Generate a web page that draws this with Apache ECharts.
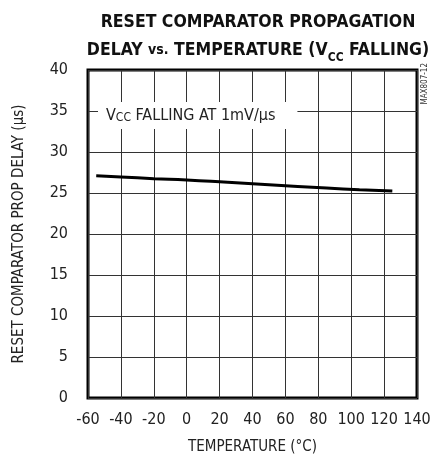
<!DOCTYPE html>
<html>
<head>
<meta charset="utf-8">
<script src="https://cdn.jsdelivr.net/npm/echarts@6/dist/echarts.min.js"></script>
<style>
  html, body { margin: 0; padding: 0; background: #fff; }
  #main { width: 445px; height: 462px; }
</style>
</head>
<body>
<div id="main"></div>
<script>
var temps = [-55, -40, -20, 0, 25, 50, 85, 105, 125];
var delays = [27.1, 26.95, 26.75, 26.6, 26.3, 26.0, 25.6, 25.4, 25.25];
var xTicks = [-60, 140, 20];
var yTicks = [0, 40, 5];

var font = '"Liberation Sans Narrow", "DejaVu Sans Condensed", Arial, sans-serif';

var chartDom = document.getElementById("main");
var myChart = echarts.init(chartDom);
var option = {
  animation: false,
  title: {
    text: "RESET COMPARATOR PROPAGATION\nDELAY {s|vs.} TEMPERATURE (V{sub|CC} FALLING)",
    left: 253,
    textAlign: "center",
    top: 3,
    textStyle: {
      fontFamily: font,
      fontWeight: "bold",
      fontSize: 17.5,
      color: "#111",
      lineHeight: 28,
      rich: {
        s: { fontFamily: font, fontWeight: "bold", fontSize: 14, color: "#111" },
        sub: { fontFamily: font, fontWeight: "bold", fontSize: 12, color: "#111", verticalAlign: "bottom", padding: [6, 0, 0, 0] }
      }
    }
  },
  grid: {
    left: 88,
    right: 28,
    top: 70,
    bottom: 64,
    show: true,
    borderColor: "#000",
    borderWidth: 3
  },
  xAxis: {
    type: "value",
    min: xTicks[0],
    max: xTicks[1],
    interval: xTicks[2],
    name: "TEMPERATURE (°C)",
    nameLocation: "middle",
    nameGap: 42,
    nameTextStyle: { fontFamily: font, fontSize: 15, color: "#222" },
    axisLine: { show: false },
    axisTick: { show: false },
    axisLabel: { fontFamily: font, fontSize: 16, color: "#222", margin: 14 },
    splitLine: { show: true, lineStyle: { color: "#333", width: 1 } }
  },
  yAxis: {
    type: "value",
    min: yTicks[0],
    max: yTicks[1],
    interval: yTicks[2],
    name: "RESET COMPARATOR PROP DELAY (µs)",
    nameLocation: "middle",
    nameGap: 61,
    nameTextStyle: { fontFamily: font, fontSize: 15, color: "#222" },
    axisLine: { show: false },
    axisTick: { show: false },
    axisLabel: { fontFamily: font, fontSize: 16, color: "#222", margin: 20 },
    splitLine: { show: true, lineStyle: { color: "#333", width: 1 } }
  },
  graphic: [
    {
      type: "text",
      left: 98,
      top: 102,
      z: 100,
      style: {
        text: "V{sub|CC} FALLING AT 1mV/µs",
        fontFamily: font,
        fontSize: 16,
        fill: "#222",
        backgroundColor: "#fff",
        padding: [5, 22, 5, 8],
        rich: {
          sub: { fontFamily: font, fontSize: 12, fill: "#222", verticalAlign: "bottom", padding: [5, 0, 0, 0] }
        }
      }
    },
    {
      type: "text",
      left: 421,
      top: 63,
      rotation: Math.PI / 2,
      style: {
        text: "MAX807-12",
        fontFamily: font,
        fontSize: 8,
        fill: "#333"
      }
    }
  ],
  series: [
    {
      type: "line",
      data: temps.map(function (t, i) { return [t, delays[i]]; }),
      showSymbol: false,
      smooth: true,
      lineStyle: { color: "#000", width: 3 },
      z: 50
    }
  ]
};
option && myChart.setOption(option);
</script>
</body>
</html>
